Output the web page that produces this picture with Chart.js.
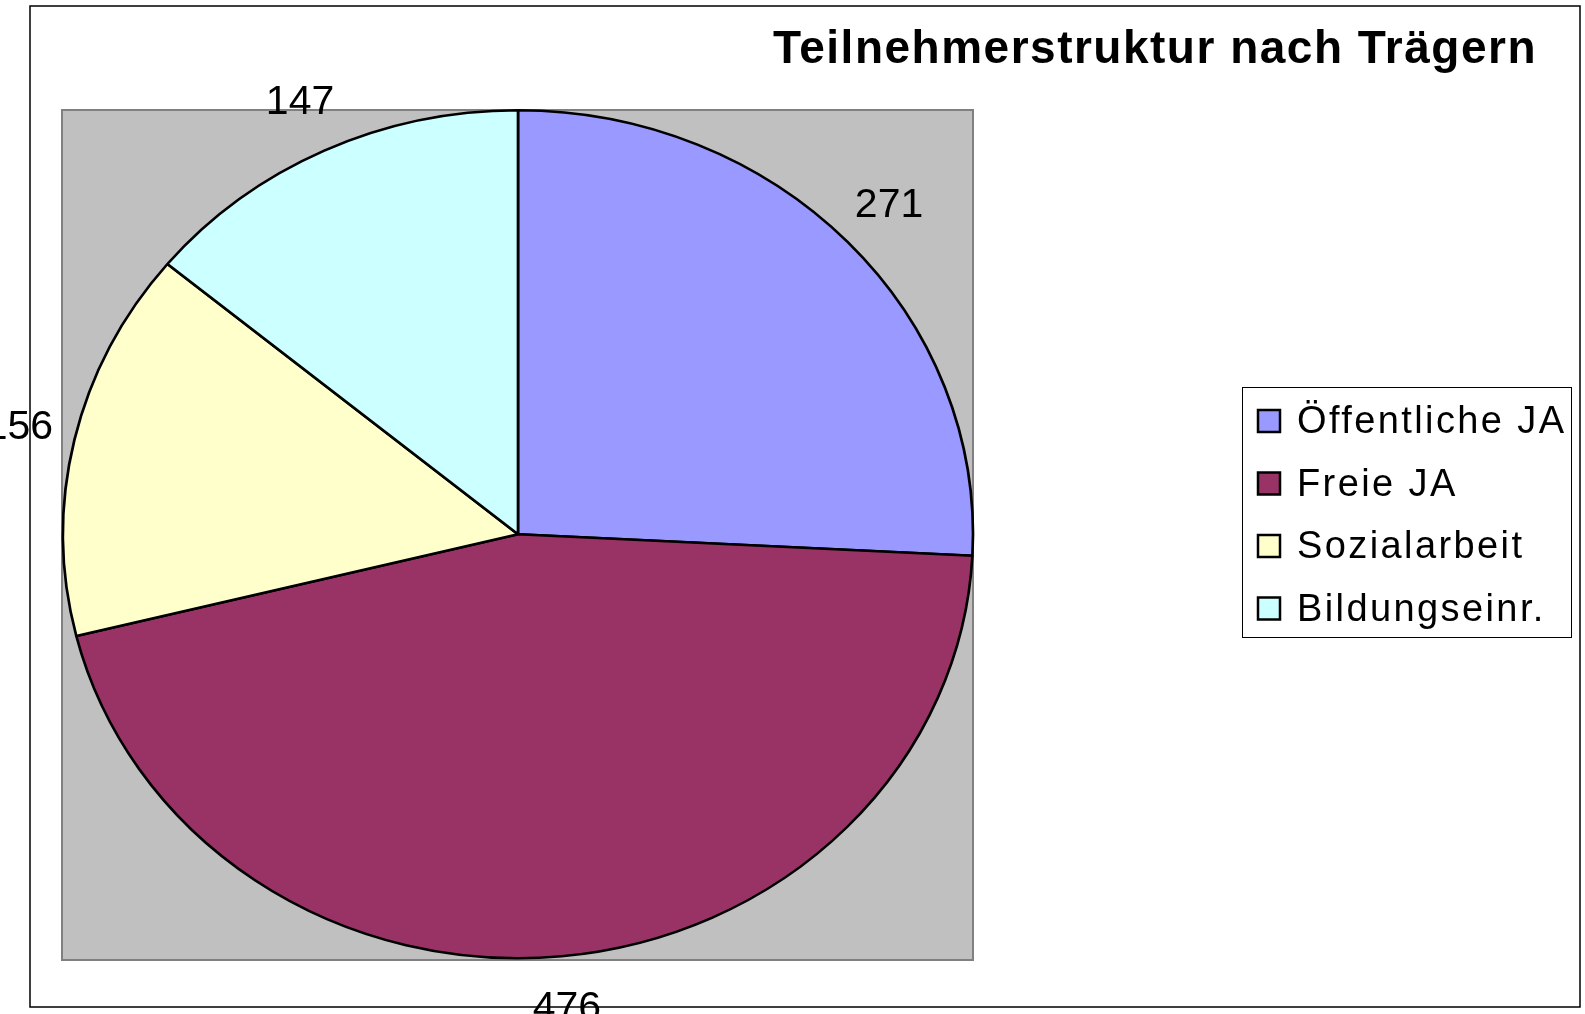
<!DOCTYPE html>
<html>
<head>
<meta charset="utf-8">
<script src="https://cdn.jsdelivr.net/npm/chart.js@4.4.1/dist/chart.umd.min.js"></script>
<style>
  html, body { margin: 0; padding: 0; background: #fff; }
  #wrap { width: 1585px; height: 1014px; position: relative; }
</style>
</head>
<body>
<div id="wrap"><canvas id="pieChart"></canvas></div>
<script>
const chartTitle = 'Teilnehmerstruktur nach Trägern';
const categories = ['Öffentliche JA', 'Freie JA', 'Sozialarbeit', 'Bildungseinr.'];
const values = [271, 476, 156, 147];
const sliceColors = ['#9999FF', '#993366', '#FFFFCC', '#CCFFFF'];

// the original pie is a bit wider than tall
const stretchX = 455 / 424;

const excelLook = {
    id: 'excelLook',
    beforeDraw(chart) {
        const ctx = chart.ctx;
        ctx.save();
        ctx.fillStyle = '#ffffff';
        ctx.fillRect(0, 0, chart.width, chart.height);
        // plot area
        ctx.fillStyle = '#c0c0c0';
        ctx.fillRect(62, 110, 911, 850);
        ctx.strokeStyle = '#808080';
        ctx.lineWidth = 2;
        ctx.strokeRect(62, 110, 911, 850);
        ctx.restore();
    },
    beforeDatasetsDraw(chart) {
        const arc = chart.getDatasetMeta(0).data[0];
        const ctx = chart.ctx;
        ctx.save();
        ctx.translate(arc.x, arc.y);
        ctx.scale(stretchX, 1);
        ctx.translate(-arc.x, -arc.y);
    },
    afterDatasetsDraw(chart) {
        chart.ctx.restore();
    },
    afterDraw(chart) {
        const ctx = chart.ctx;
        const meta = chart.getDatasetMeta(0);
        ctx.save();
        // value labels outside the slices
        ctx.fillStyle = '#000';
        ctx.font = '41px "Liberation Sans", Arial, sans-serif';
        ctx.textAlign = 'center';
        ctx.textBaseline = 'middle';
        meta.data.forEach((arc, i) => {
            const mid = (arc.startAngle + arc.endAngle) / 2;
            const r = arc.outerRadius * 1.125;
            const x = arc.x + Math.cos(mid) * r * stretchX;
            const y = arc.y + Math.sin(mid) * r;
            ctx.fillText(String(values[i]), x, y);
        });

        // title
        ctx.font = 'bold 46px "Liberation Sans", Arial, sans-serif';
        ctx.letterSpacing = '1.5px';
        ctx.textAlign = 'right';
        ctx.textBaseline = 'alphabetic';
        ctx.fillText(chartTitle, 1537, 63);

        // legend
        ctx.letterSpacing = '2.4px';
        ctx.strokeStyle = '#000';
        ctx.lineWidth = 1;
        ctx.strokeRect(1242.5, 387.5, 329, 250);
        ctx.font = '38px "Liberation Sans", Arial, sans-serif';
        ctx.textAlign = 'left';
        ctx.textBaseline = 'middle';
        categories.forEach((name, i) => {
            const cy = 421 + i * 62.5;
            ctx.fillStyle = sliceColors[i];
            ctx.fillRect(1258, cy - 11, 22, 22);
            ctx.lineWidth = 2.5;
            ctx.strokeRect(1258, cy - 11, 22, 22);
            ctx.fillStyle = '#000';
            ctx.fillText(name, 1297, cy + 2);
        });

        // outer chart frame
        ctx.letterSpacing = '0px';
        ctx.lineWidth = 1.5;
        ctx.strokeStyle = '#000';
        ctx.strokeRect(30, 6, 1550, 1001);
        ctx.restore();
    }
};

const ctx = document.getElementById('pieChart').getContext('2d');
new Chart(ctx, {
    type: 'pie',
    data: {
        labels: categories,
        datasets: [{
            data: values,
            backgroundColor: sliceColors,
            borderColor: '#000000',
            borderWidth: 2.5
        }]
    },
    options: {
        responsive: true,
        maintainAspectRatio: false,
        animation: false,
        layout: { padding: { left: 92.75, right: 641.75, top: 109, bottom: 54.5 } },
        plugins: {
            legend: { display: false },
            title: { display: false },
            tooltip: { enabled: false }
        }
    },
    plugins: [excelLook]
});
</script>
</body>
</html>
